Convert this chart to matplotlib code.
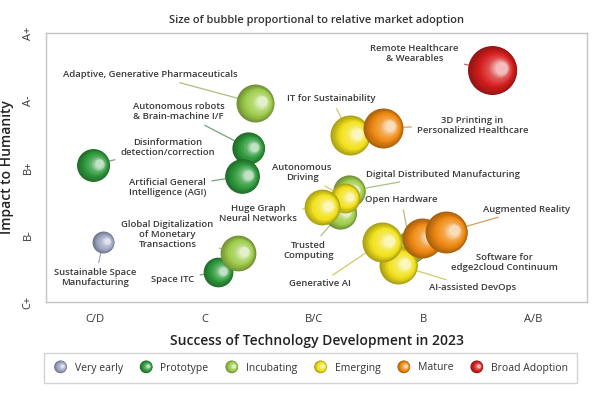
import numpy as np
import matplotlib
matplotlib.use("Agg")
import matplotlib.pyplot as plt
from matplotlib.colors import to_rgb
from matplotlib.lines import Line2D
from matplotlib.patches import Circle
from matplotlib.legend_handler import HandlerBase
from matplotlib.transforms import offset_copy

plt.rcParams["font.family"] = ["Open Sans", "DejaVu Sans"]

# --- data -------------------------------------------------------------------
x_ticklabels = ["C/D", "C", "B/C", "B", "A/B"]
y_ticklabels = ["C+", "B-", "B+", "A-", "A+"]

stages = ["Very early", "Prototype", "Incubating", "Emerging", "Mature", "Broad Adoption"]
stage_colors = ["#9ea6c2", "#2f9a3c", "#9fcd4c", "#f2e21c", "#f08a12", "#d61e1e"]

# drawn in this order (later ones sit on top)
techs = [
    "Remote Healthcare\n& Wearables",
    "Adaptive, Generative Pharmaceuticals",
    "Autonomous robots\n& Brain-machine I/F",
    "Artificial General\nIntelligence (AGI)",
    "Disinformation\ndetection/correction",
    "IT for Sustainability",
    "3D Printing in\nPersonalized Healthcare",
    "Trusted\nComputing",
    "Digital Distributed Manufacturing",
    "Autonomous\nDriving",
    "Huge Graph\nNeural Networks",
    "Space ITC",
    "Global Digitalization\nof Monetary\nTransactions",
    "Sustainable Space\nManufacturing",
    "Open Hardware",
    "AI-assisted DevOps",
    "Generative AI",
    "Software for\nedge2cloud Continuum",
    "Augmented Reality",
]
success = [4.63, 2.46, 2.40, 2.34, 0.98, 3.33, 3.63, 3.24, 3.32, 3.28, 3.07,
           2.12, 2.30, 1.07, 3.88, 3.77, 3.62, 3.99, 4.21]
impact = [3.45, 2.96, 2.29, 1.87, 2.04, 2.48, 2.59, 1.32, 1.65, 1.55, 1.41,
          0.45, 0.73, 0.89, 0.82, 0.55, 0.89, 0.95, 1.04]
adoption = [6.0, 3.6, 2.6, 3.0, 2.7, 4.0, 4.0, 2.6, 2.6, 2.2, 3.2,
            2.2, 3.2, 1.2, 2.6, 3.6, 4.0, 4.0, 4.4]
stage = [5, 2, 1, 1, 1, 3, 4, 2, 2, 3, 3, 1, 2, 0, 2, 3, 3, 4, 4]

# label placement (layout only)
label_xy = [
    (3.92, 3.69), (1.50, 3.38), (1.76, 2.83), (1.66, 1.70), (1.66, 2.30),
    (3.16, 3.02), (4.45, 2.63), (2.95, 0.77), (4.18, 1.90), (2.89, 1.93),
    (2.49, 1.32), (1.71, 0.33), (1.66, 1.00), (1.00, 0.36), (3.80, 1.52),
    (4.45, 0.21), (3.05, 0.27), (4.74, 0.59), (4.94, 1.38),
]


def shade(base, t):
    base = np.array(to_rgb(base))
    dark = base * 0.70
    white = np.ones(3)
    if t < 0.4:
        return dark + (base - dark) * (t / 0.4)
    if t < 0.75:
        return base + (white - base) * 0.25 * ((t - 0.4) / 0.35)
    return base + (white - base) * (0.25 + 0.45 * (t - 0.75) / 0.25)


def sphere_layers(r, n=22):
    for i in range(n):
        t = i / (n - 1)
        yield t, r * (1 - 0.75 * t), 0.36 * r * t, 0.08 * r * t


fig = plt.figure(figsize=(6, 4), dpi=100)
ax = fig.add_axes([0.077, 0.245, 0.902, 0.6725])
ax.set_xlim(0.55, 5.5)
ax.set_ylim(0, 4)

for i, name in enumerate(techs):
    col = stage_colors[stage[i]]
    r_pt = 0.72 * 10 * np.sqrt(adoption[i])
    for t, rad, dx, dy in sphere_layers(r_pt):
        tr = offset_copy(ax.transData, fig=fig, x=dx, y=dy, units="points")
        ax.scatter([success[i]], [impact[i]], s=(2 * rad) ** 2, color=shade(col, t),
                   transform=tr, linewidths=0, zorder=3 + i)
    line_col = 0.5 * np.array(to_rgb(col)) + 0.5 * np.array([0.7, 0.7, 0.7])
    ax.annotate(name, xy=(success[i], impact[i]), xytext=label_xy[i],
                ha="center", va="center", fontsize=6.8, color="#3a3a3a",
                fontweight="semibold", linespacing=1.15, zorder=1,
                arrowprops=dict(arrowstyle="-", color=line_col, lw=0.9,
                                shrinkA=2, shrinkB=0))

ax.set_xticks(range(1, 6))
ax.set_xticklabels(x_ticklabels, fontsize=8, color="#333333")
ax.set_yticks(range(0, 5))
ax.set_yticklabels(y_ticklabels, fontsize=8, color="#333333", rotation=90, va="center")
ax.tick_params(length=0, pad=9)
for sp in ax.spines.values():
    sp.set_color("#c4c4c4")
    sp.set_linewidth(1.0)
ax.set_xlabel("Success of Technology Development in 2023", fontsize=10,
              color="#222222", fontweight="semibold", labelpad=6)
ax.set_ylabel("Impact to Humanity", fontsize=10, color="#222222",
              fontweight="semibold", labelpad=6)
ax.set_title("Size of bubble proportional to relative market adoption",
             fontsize=8, color="#333333", fontweight="semibold", pad=7)


class SphereHandler(HandlerBase):
    def create_artists(self, legend, orig_handle, xdescent, ydescent,
                       width, height, fontsize, trans):
        cx = width / 2 - xdescent
        cy = height / 2 - ydescent
        col = orig_handle.get_color()
        arts = []
        for t, rad, dx, dy in sphere_layers(4.6, n=12):
            arts.append(Circle((cx + dx, cy + dy), rad, color=shade(col, t),
                               transform=trans, lw=0))
        return arts


handles = [Line2D([], [], color=c) for c in stage_colors]
leg = fig.legend(handles, stages, loc="center", bbox_to_anchor=(0.518, 0.08),
                 ncol=6, frameon=True, fancybox=False, fontsize=7.5,
                 handlelength=1.3, handletextpad=0.7, columnspacing=1.6,
                 borderpad=0.9, handler_map={Line2D: SphereHandler()})
leg.get_frame().set_edgecolor("#c8c8c8")
leg.get_frame().set_linewidth(1.0)
for txt in leg.get_texts():
    txt.set_color("#333333")

fig.savefig("out.png", dpi=100)
